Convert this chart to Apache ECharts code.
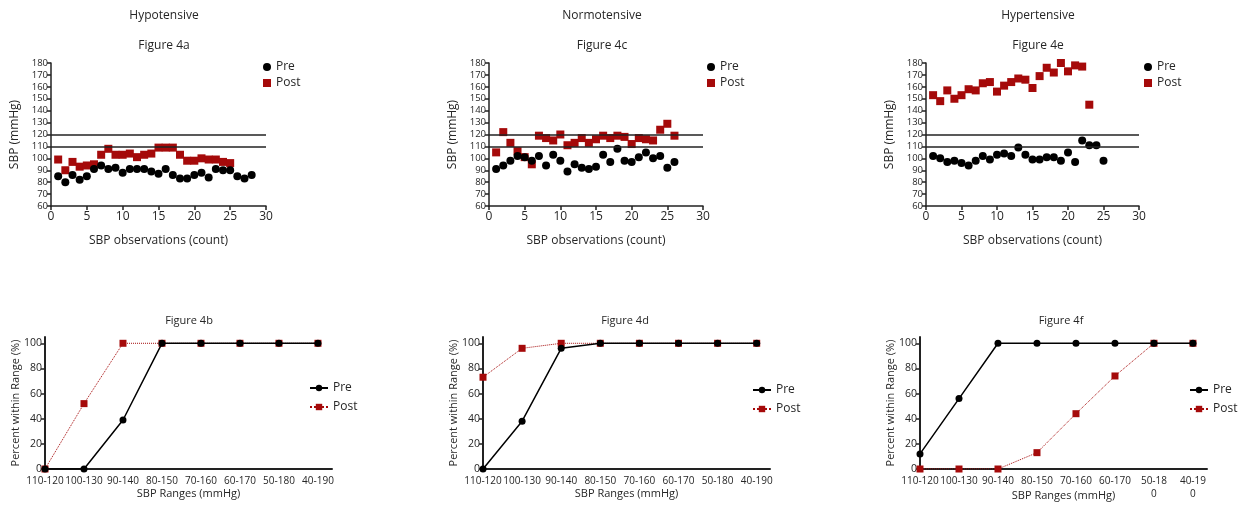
<!DOCTYPE html>
<html><head><meta charset="utf-8">
<script src="https://cdn.jsdelivr.net/npm/echarts@6/dist/echarts.min.js"></script>
<style>html,body{margin:0;padding:0;background:#fff}#c{width:1245px;height:508px}</style>
</head><body><div id="c"></div>
<script>
// ---- data ----
const groupTitles = ['Hypotensive', 'Normotensive', 'Hypertensive'];
const scatterTitles = ['Figure 4a', 'Figure 4c', 'Figure 4e'];
const lineTitles = ['Figure 4b', 'Figure 4d', 'Figure 4f'];

const hypoPre  = [85,80,86,82,85,91,94,91,92,88,91,91,91,89,87,91,86,83,83,86,88,84,91,90,90,85,83,86];
const hypoPost = [99,90,97,93,94,95,103,108,103,103,104,101,103,104,109,109,109,103,98,98,100,99,99,97,96];
const normoPre  = [91,94,98,102,101,98,102,94,103,98,89,95,92,91,93,103,97,108,98,97,101,105,100,102,92,97];
const normoPost = [105,122,113,106,101,95,119,117,115,120,111,113,117,113,116,119,117,119,118,112,117,116,115,124,129,119];
const hyperPre  = [102,100,97,98,96,94,98,102,99,103,104,102,109,103,99,99,101,101,98,105,97,115,111,111,98];
const hyperPost = [153,148,157,150,153,158,157,163,164,156,161,164,167,166,159,169,176,172,180,173,178,177,145];
const refLines = [110, 120];

const rangeLabels = ['110-120','100-130','90-140','80-150','70-160','60-170','50-180','40-190'];
const rangeLabelsWrapped = ['110-120','100-130','90-140','80-150','70-160','60-170','50-18\n0','40-19\n0'];
const hypoRangePre  = [0,0,39,100,100,100,100,100];
const hypoRangePost = [0,52,100,100,100,100,100,100];
const normoRangePre  = [0,38,96,100,100,100,100,100];
const normoRangePost = [73,96,100,100,100,100,100,100];
const hyperRangePre  = [12,56,100,100,100,100,100,100];
const hyperRangePost = [0,0,0,13,44,74,100,100];

// ---- styling ----
const RED = '#a50a0a';
const TXT = '#262626';
const FONT = '"Open Sans", "DejaVu Sans", sans-serif';

const scatterSets = [[hypoPre, hypoPost], [normoPre, normoPost], [hyperPre, hyperPost]];
const lineSets = [[hypoRangePre, hypoRangePost, rangeLabels], [normoRangePre, normoRangePost, rangeLabels], [hyperRangePre, hyperRangePost, rangeLabelsWrapped]];

const topGrids = [{left:51,width:215},{left:489,width:214},{left:926,width:213}];
const topLegend = [258, 702, 1139];
const titleX = [159, 597, 1033];
const botGrids = [{left:45,width:287,max:7.36},{left:483,width:287,max:7.34},{left:920,width:287,max:7.36}];
const botLegend = [{left:304,top:377},{left:747,top:379},{left:1184,top:379}];
const botTitleX = [184, 620, 1056];

const toXY = arr => arr.map((v, i) => [i + 1, v]);
const toIdx = arr => arr.map((v, i) => [i, v]);

const option = {animation:false, textStyle:{fontFamily:FONT}, title:[], grid:[], xAxis:[], yAxis:[], series:[], legend:[]};

for (let k = 0; k < 3; k++) {
  option.title.push({text: groupTitles[k], left: titleX[k], top: 5, textAlign:'center',
    textStyle:{fontSize:12, fontWeight:'normal', color:TXT, fontFamily:FONT}});
  option.title.push({text: scatterTitles[k], left: titleX[k], top: 35, textAlign:'center',
    textStyle:{fontSize:12, fontWeight:'normal', color:TXT, fontFamily:FONT}});
  option.title.push({text: lineTitles[k], left: botTitleX[k], top: 310, textAlign:'center',
    textStyle:{fontSize:11, fontWeight:'normal', color:TXT, fontFamily:FONT}});

  // top scatter
  const gi = option.grid.length;
  option.grid.push({left: topGrids[k].left, width: topGrids[k].width, top: 63, height: 143});
  option.xAxis.push({type:'value', gridIndex: gi, min:0, max:30, interval:5,
    name:'SBP observations (count)', nameLocation:'middle', nameGap:29, nameMoveOverlap:false,
    nameTextStyle:{fontSize:12, color:TXT, fontFamily:FONT},
    axisLine:{lineStyle:{color:'#222', width:1.5}}, axisTick:{show:true, length:4, lineStyle:{color:'#222', width:1.5}},
    axisLabel:{fontSize:12, color:TXT, margin:5, fontFamily:FONT}, splitLine:{show:false}});
  option.yAxis.push({type:'value', gridIndex: gi, min:60, max:180, interval:10,
    name:'SBP (mmHg)', nameLocation:'middle', nameGap:30, nameMoveOverlap:false,
    nameTextStyle:{fontSize:12, color:TXT, fontFamily:FONT},
    axisLine:{show:true, lineStyle:{color:'#222', width:1.5}}, axisTick:{show:true, length:4, lineStyle:{color:'#222', width:1.5}},
    axisLabel:{fontSize:9.5, color:TXT, margin:3, fontFamily:FONT}, splitLine:{show:false}});
  option.series.push({type:'scatter', name:'Pre_' + k, xAxisIndex: gi, yAxisIndex: gi, data: toXY(scatterSets[k][0]),
    symbol:'circle', symbolSize:8, itemStyle:{color:'#000', opacity:1}, z:3,
    markLine:{silent:true, symbol:'none', label:{show:false}, lineStyle:{color:'#222', width:1.5, type:'solid'},
      data: refLines.map(v => ({yAxis: v}))}});
  option.series.push({type:'scatter', name:'Post_' + k, xAxisIndex: gi, yAxisIndex: gi, data: toXY(scatterSets[k][1]),
    symbol:'rect', symbolSize:8, itemStyle:{color:RED, opacity:1}, z:2});
  option.legend.push({orient:'vertical', left: topLegend[k], top: 56, itemWidth:8, itemHeight:8, itemGap:4,
    textStyle:{fontSize:12, color:TXT, fontFamily:FONT}, formatter: n => n.split('_')[0],
    data:[{name:'Pre_' + k, icon:'circle'}, {name:'Post_' + k, icon:'rect'}]});
}

for (let k = 0; k < 3; k++) {
  const gi = option.grid.length;
  const labels = lineSets[k][2];
  option.grid.push({left: botGrids[k].left, width: botGrids[k].width, top: 337, height: 132});
  option.xAxis.push({type:'value', gridIndex: gi, min:0, max: botGrids[k].max,
    name:'SBP Ranges (mmHg)', nameLocation:'middle', nameGap: k === 2 ? 21 : 19, nameMoveOverlap:false,
    nameTextStyle:{fontSize:11, color:TXT, fontFamily:FONT},
    axisLine:{lineStyle:{color:'#222', width:2}}, axisTick:{show:false},
    axisLabel:{customValues:[0,1,2,3,4,5,6,7], formatter: v => labels[Math.round(v)] || '',
      fontSize:10, color:TXT, margin:6, fontFamily:FONT, lineHeight:13, verticalAlign:'top', hideOverlap:false},
    splitLine:{show:false}});
  option.yAxis.push({type:'value', gridIndex: gi, min:0, max:105,
    name:'Percent within Range (%)', nameLocation:'middle', nameGap:24, nameMoveOverlap:false,
    nameTextStyle:{fontSize:11, color:TXT, fontFamily:FONT},
    axisLine:{show:true, lineStyle:{color:'#222', width:2}},
    axisTick:{show:true, length:4, customValues:[0,20,40,60,80,100], lineStyle:{color:'#222', width:1.5}},
    axisLabel:{customValues:[0,20,40,60,80,100], fontSize:10.5, color:TXT, margin:3, fontFamily:FONT, hideOverlap:false},
    splitLine:{show:false}});
  const nPre = 'Pre ' + k, nPost = 'Post ' + k;
  option.series.push({type:'line', name:nPost, xAxisIndex: gi, yAxisIndex: gi, data: toIdx(lineSets[k][1]),
    symbol:'rect', symbolSize:7, itemStyle:{color:RED, opacity:1}, lineStyle:{color:RED, width:1, type:'dotted'}, z:2});
  option.series.push({type:'line', name:nPre, xAxisIndex: gi, yAxisIndex: gi, data: toIdx(lineSets[k][0]),
    symbol:'circle', symbolSize:7, itemStyle:{color:'#000', opacity:1}, lineStyle:{color:'#000', width:1.5}, z:3});
  option.legend.push({orient:'vertical', left: botLegend[k].left, top: botLegend[k].top, itemWidth:18, itemHeight:8, itemGap:7,
    textStyle:{fontSize:12, color:TXT, fontFamily:FONT}, formatter: n => n.split(' ')[0],
    data:[nPre, nPost]});
}

const chart = echarts.init(document.getElementById('c'), null, {renderer:'canvas'});
chart.setOption(option);
</script></body></html>
